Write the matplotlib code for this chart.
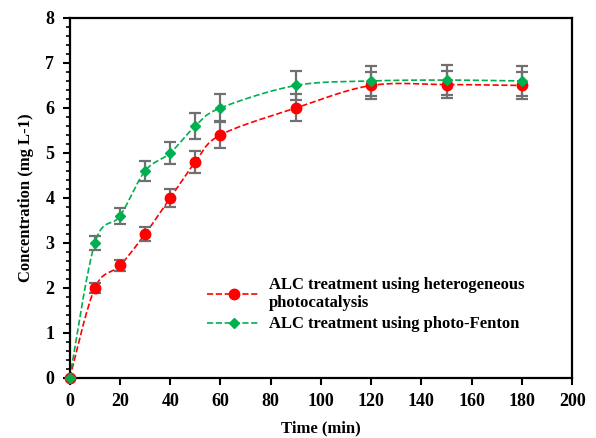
import matplotlib
import matplotlib.pyplot as plt
import numpy as np

matplotlib.use("Agg")

time_min = [0, 10, 20, 30, 40, 50, 60, 90, 120, 150, 180]

photocat = [0, 2.0, 2.5, 3.2, 4.0, 4.8, 5.4, 6.0, 6.5, 6.52, 6.5]
photocat_err = [0, 0.12, 0.12, 0.15, 0.2, 0.25, 0.28, 0.3, 0.3, 0.3, 0.3]

fenton = [0, 3.0, 3.6, 4.6, 5.0, 5.6, 6.0, 6.5, 6.6, 6.62, 6.6]
fenton_err = [0, 0.15, 0.17, 0.22, 0.25, 0.28, 0.3, 0.32, 0.33, 0.33, 0.33]

labels = ["ALC treatment using heterogeneous\nphotocatalysis",
          "ALC treatment using photo-Fenton"]


def smooth(x, y, n=30):
    """Catmull-Rom style smoothing like a spreadsheet 'smoothed line'."""
    x = np.asarray(x, float)
    y = np.asarray(y, float)
    px = np.concatenate([[x[0]], x, [x[-1]]])
    py = np.concatenate([[y[0]], y, [y[-1]]])
    xs, ys = [], []
    t = np.linspace(0, 1, n)
    for i in range(1, len(px) - 2):
        p0 = np.array([px[i], py[i]])
        p3 = np.array([px[i + 1], py[i + 1]])
        p1 = p0 + (np.array([px[i + 1], py[i + 1]]) - np.array([px[i - 1], py[i - 1]])) / 6
        p2 = p3 - (np.array([px[i + 2], py[i + 2]]) - np.array([px[i], py[i]])) / 6
        b = ((1 - t) ** 3)[:, None] * p0 + (3 * (1 - t) ** 2 * t)[:, None] * p1 \
            + (3 * (1 - t) * t ** 2)[:, None] * p2 + (t ** 3)[:, None] * p3
        xs.extend(b[:, 0])
        ys.extend(b[:, 1])
    return xs, ys


plt.rcParams["font.family"] = ["Liberation Serif", "DejaVu Serif"]
plt.rcParams["font.weight"] = "bold"

fig = plt.figure(figsize=(5.96, 4.38), dpi=100)
ax = fig.add_axes([0.117, 0.137, 0.843, 0.822])

series = [
    (photocat, photocat_err, "#FF0000", "o", 7.5),
    (fenton, fenton_err, "#00B050", "D", 5.5),
]
for (vals, err, color, marker, ms), label in zip(series, labels):
    sx, sy = smooth(time_min, vals)
    ax.plot(sx, sy, "--", color=color, lw=1.2, zorder=2)
    ax.errorbar(time_min, vals, yerr=err, fmt="none", ecolor="#707070",
                elinewidth=1.6, capsize=4, capthick=1.6, zorder=3)
    ax.plot(time_min, vals, marker=marker, ls="none", color=color, ms=ms,
            zorder=4, clip_on=False)
    ax.plot([], [], "--", color=color, marker=marker, ms=ms, lw=1.2, label=label)

ax.set_xlim(0, 200)
ax.set_ylim(0, 8)
ax.set_xticks(np.arange(0, 201, 20))
ax.set_yticks(np.arange(0, 9, 1))
ax.set_yticks(np.arange(0, 8.01, 0.2), minor=True)
ax.tick_params(axis="both", which="major", direction="out", length=5, width=1.5,
               labelsize=13, pad=6)
ax.tick_params(axis="y", which="minor", direction="out", length=3, width=1.2)
for s in ax.spines.values():
    s.set_linewidth(1.6)

ax.set_xlabel("Time (min)", fontsize=12, fontweight="bold", labelpad=7)
ax.set_ylabel("Concentration (mg L-1)", fontsize=12, fontweight="bold", labelpad=8)

leg = ax.legend(loc="lower left", bbox_to_anchor=(0.25, 0.094), frameon=False,
                fontsize=12, handlelength=3.2, labelspacing=0.3,
                handletextpad=0.5, borderpad=0.2)

fig.savefig("out.png", dpi=100)
